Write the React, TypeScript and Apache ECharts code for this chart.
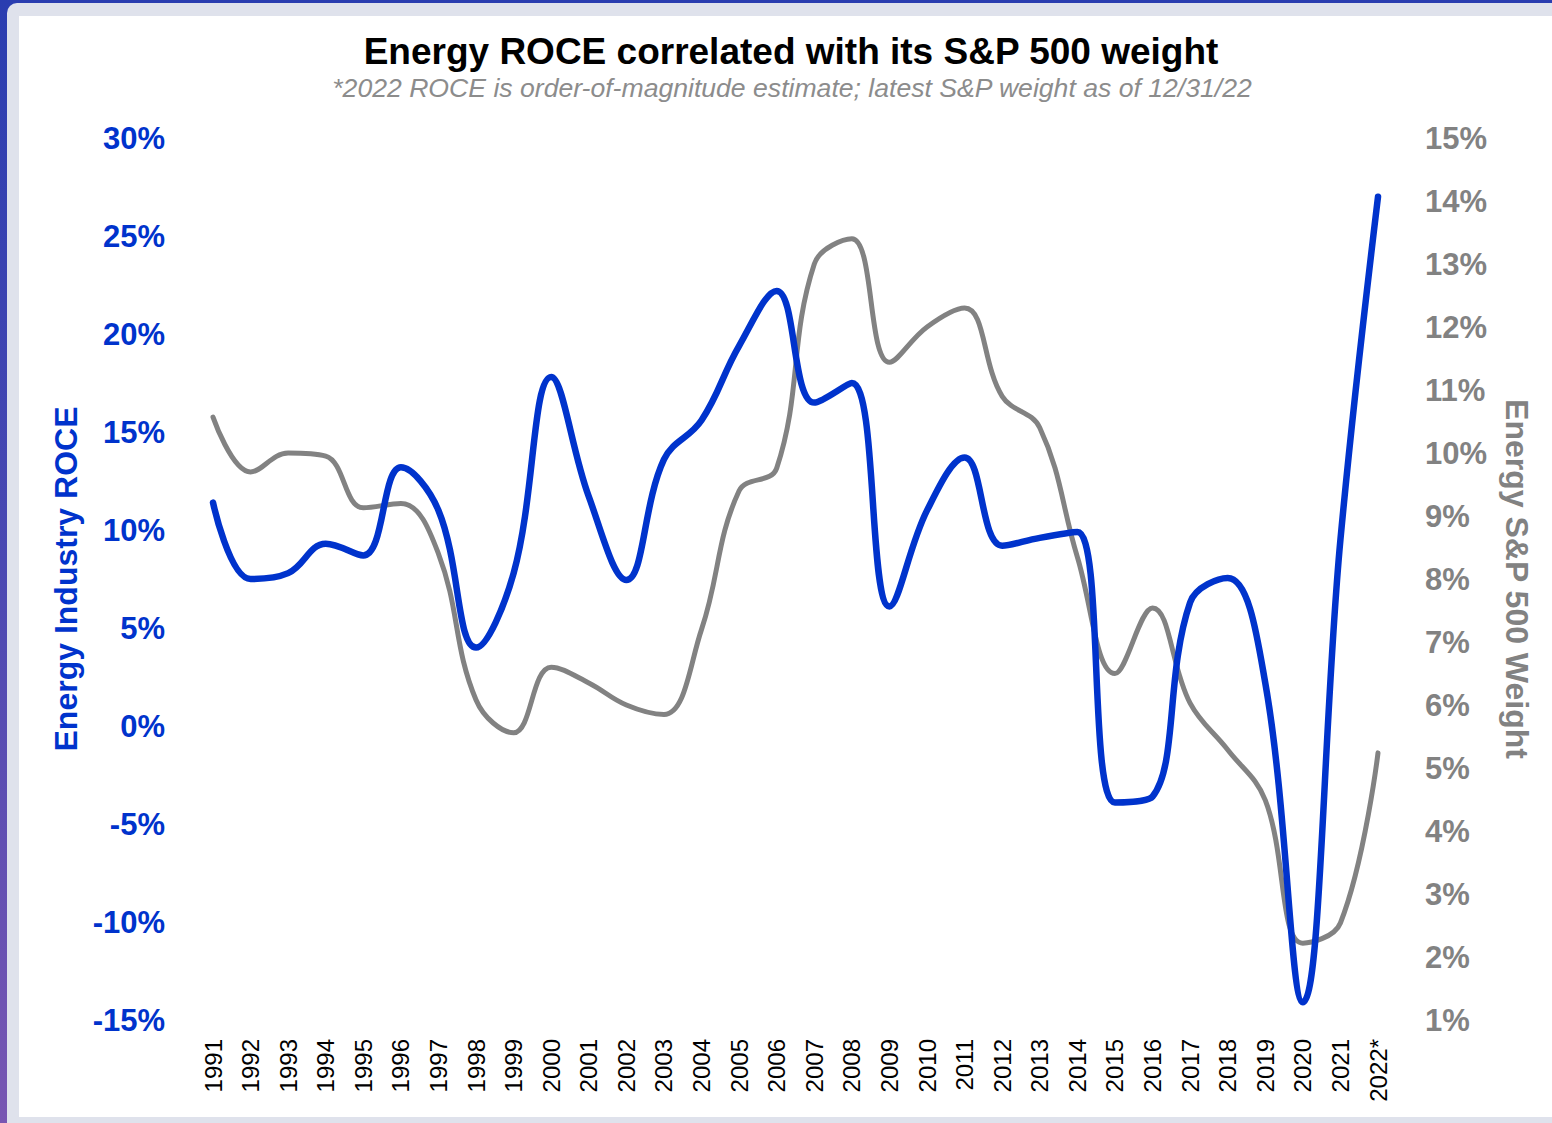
import React, { useEffect, useRef } from "react";
import * as echarts from "echarts";

const years = ["1991","1992","1993","1994","1995","1996","1997","1998","1999","2000","2001","2002","2003","2004","2005","2006","2007","2008","2009","2010","2011","2012","2013","2014","2015","2016","2017","2018","2019","2020","2021","2022*"];
const roce = [11.4,7.5,7.8,9.3,8.7,13.2,11.0,4.0,7.8,17.8,11.7,7.45,13.6,15.6,19.4,22.2,16.5,17.5,6.1,11.0,13.7,9.2,9.6,9.9,-3.9,-3.6,6.3,7.55,2.2,-14.1,9.5,27.0];
const weight = [10.57,9.7,10.0,9.95,9.13,9.2,8.4,6.08,5.56,6.6,6.35,6.0,5.85,7.2,9.4,9.76,13.0,13.4,11.44,12.0,12.3,10.9,10.4,8.35,6.5,7.54,6.03,5.29,4.49,2.22,2.54,5.24];

const BLUE = "#0033cc";
const GREY = "#828282";
const FONT = "'Liberation Sans', Arial, sans-serif";

export default function App() {
  const ref = useRef<HTMLDivElement>(null);
  useEffect(() => {
    document.body.style.margin = "0";
    const chart = echarts.init(ref.current!, null, { renderer: "svg" });
    chart.setOption({
      animation: false,
      textStyle: { fontFamily: FONT },
      graphic: [
        { type: "text", x: 791, y: 51, style: { text: "Energy ROCE correlated with its S&P 500 weight", font: `bold 37px ${FONT}`, fill: "#000", textAlign: "center", textVerticalAlign: "middle" } },
        { type: "text", x: 792, y: 88, style: { text: "*2022 ROCE is order-of-magnitude estimate; latest S&P weight as of 12/31/22", font: `italic 26.6px ${FONT}`, fill: "#8c8c8c", textAlign: "center", textVerticalAlign: "middle" } },
      ],
      grid: { left: 213, right: 174, top: 138, bottom: 103, containLabel: false },
      xAxis: {
        type: "category",
        data: years,
        boundaryGap: false,
        axisLine: { show: false },
        axisTick: { show: false },
        axisLabel: { rotate: 90, color: "#000", fontSize: 24, margin: 19, interval: 0, fontFamily: FONT },
      },
      yAxis: [
        {
          type: "value", min: -15, max: 30, interval: 5,
          position: "left",
          splitLine: { show: false }, axisLine: { show: false }, axisTick: { show: false },
          axisLabel: { formatter: "{value}%", color: BLUE, fontSize: 31, fontWeight: "bold", margin: 48, fontFamily: FONT },
          name: "Energy Industry ROCE", nameLocation: "middle", nameRotate: 90, nameGap: 130,
          nameTextStyle: { color: BLUE, fontSize: 32, fontWeight: "bold", fontFamily: FONT },
        },
        {
          type: "value", min: 1, max: 15, interval: 1,
          position: "right",
          splitLine: { show: false }, axisLine: { show: false }, axisTick: { show: false },
          axisLabel: { formatter: "{value}%", color: GREY, fontSize: 31, fontWeight: "bold", margin: 47, fontFamily: FONT },
          name: "Energy S&P 500 Weight", nameLocation: "middle", nameRotate: -90, nameGap: 123,
          nameTextStyle: { color: GREY, fontSize: 32, fontWeight: "bold", fontFamily: FONT },
        },
      ],
      series: [
        { type: "line", name: "Energy S&P 500 Weight", yAxisIndex: 1, data: weight, smooth: 0.4, symbol: "none", lineStyle: { color: GREY, width: 5, cap: "round" }, z: 2 },
        { type: "line", name: "Energy Industry ROCE", yAxisIndex: 0, data: roce, smooth: 0.4, symbol: "none", lineStyle: { color: BLUE, width: 6.5, cap: "round" }, z: 3 },
      ],
    });
    return () => chart.dispose();
  }, []);
  return (
    <div style={{ position: "fixed", left: 0, top: 0, width: 1552, height: 1123, overflow: "hidden", background: "linear-gradient(180deg, #2a3db0 0%, #4a48b2 50%, #7856b2 100%)" }}>
      <div style={{ position: "absolute", left: 7, top: 3, width: 1560, height: 1130, background: "#dfe2ec", borderRadius: 10 }} />
      <div style={{ position: "absolute", left: 19, top: 16, width: 1540, height: 1101, background: "#ffffff" }} />
      <div ref={ref} style={{ position: "absolute", left: 0, top: 0, width: 1552, height: 1123 }} />
    </div>
  );
}
